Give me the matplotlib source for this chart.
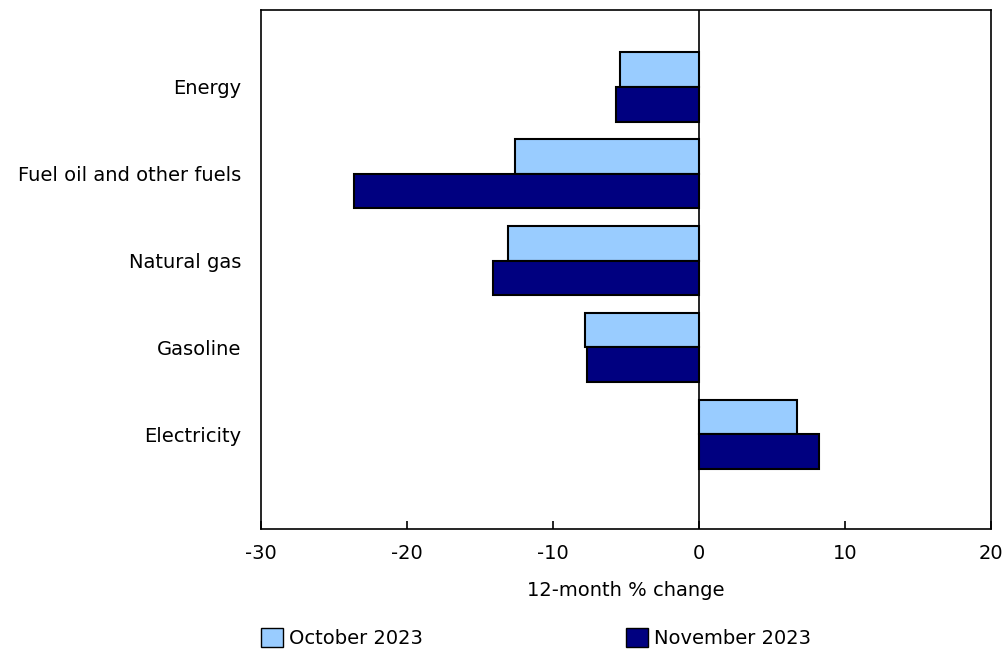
import matplotlib.pyplot as plt
from matplotlib.patches import Patch
import numpy as np

# Données
categories = ["Energy", "Fuel oil and other fuels", "Natural gas", "Gasoline", "Electricity"]
october_2023 = [-5.4, -12.6, -13.1, -7.8, 6.7]
november_2023 = [-5.7, -23.6, -14.1, -7.7, 8.2]
series_labels = ["October 2023", "November 2023"]
colors = ["#99CCFF", "#000080"]
xticks = [-30, -20, -10, 0, 10, 20]

plt.rcParams["font.family"] = ["DejaVu Sans"]
plt.rcParams["axes.unicode_minus"] = False
fs = 14

fig = plt.figure(figsize=(10.05, 6.52), dpi=100)
ax = fig.add_axes([0.2597, 0.1887, 0.7264, 0.796])

y = np.arange(len(categories))[::-1]
h = 0.4
ax.barh(y + h / 2, october_2023, height=h, color=colors[0], edgecolor="black", linewidth=1.5)
ax.barh(y - h / 2, november_2023, height=h, color=colors[1], edgecolor="black", linewidth=1.5)
ax.axvline(0, color="black", linewidth=1.2)

ax.set_xlim(-30, 20)
ax.set_ylim(-1.09, 4.885)
ax.set_xticks(xticks)
ax.set_xticklabels([str(t) for t in xticks])
ax.set_yticks(y)
ax.set_yticklabels(categories, fontsize=fs)
ax.tick_params(axis="y", length=0, pad=14)
ax.tick_params(axis="x", direction="in", length=6, width=1.2, labelsize=fs, pad=11)
ax.set_xlabel("12-month % change", fontsize=fs, labelpad=13)
for s in ax.spines.values():
    s.set_linewidth(1.2)

# Légende: deux blocs placés séparément
lx = [261 / 1005, 626 / 1005]
for i in range(2):
    fig.legend([Patch(facecolor=colors[i], edgecolor="black", linewidth=1)], [series_labels[i]],
               loc="center left", bbox_to_anchor=(lx[i], 1 - 638 / 652), frameon=False,
               fontsize=fs, handlelength=1.15, handleheight=1.15, handletextpad=0.3,
               borderpad=0, borderaxespad=0)

fig.savefig("out.png", dpi=100)
